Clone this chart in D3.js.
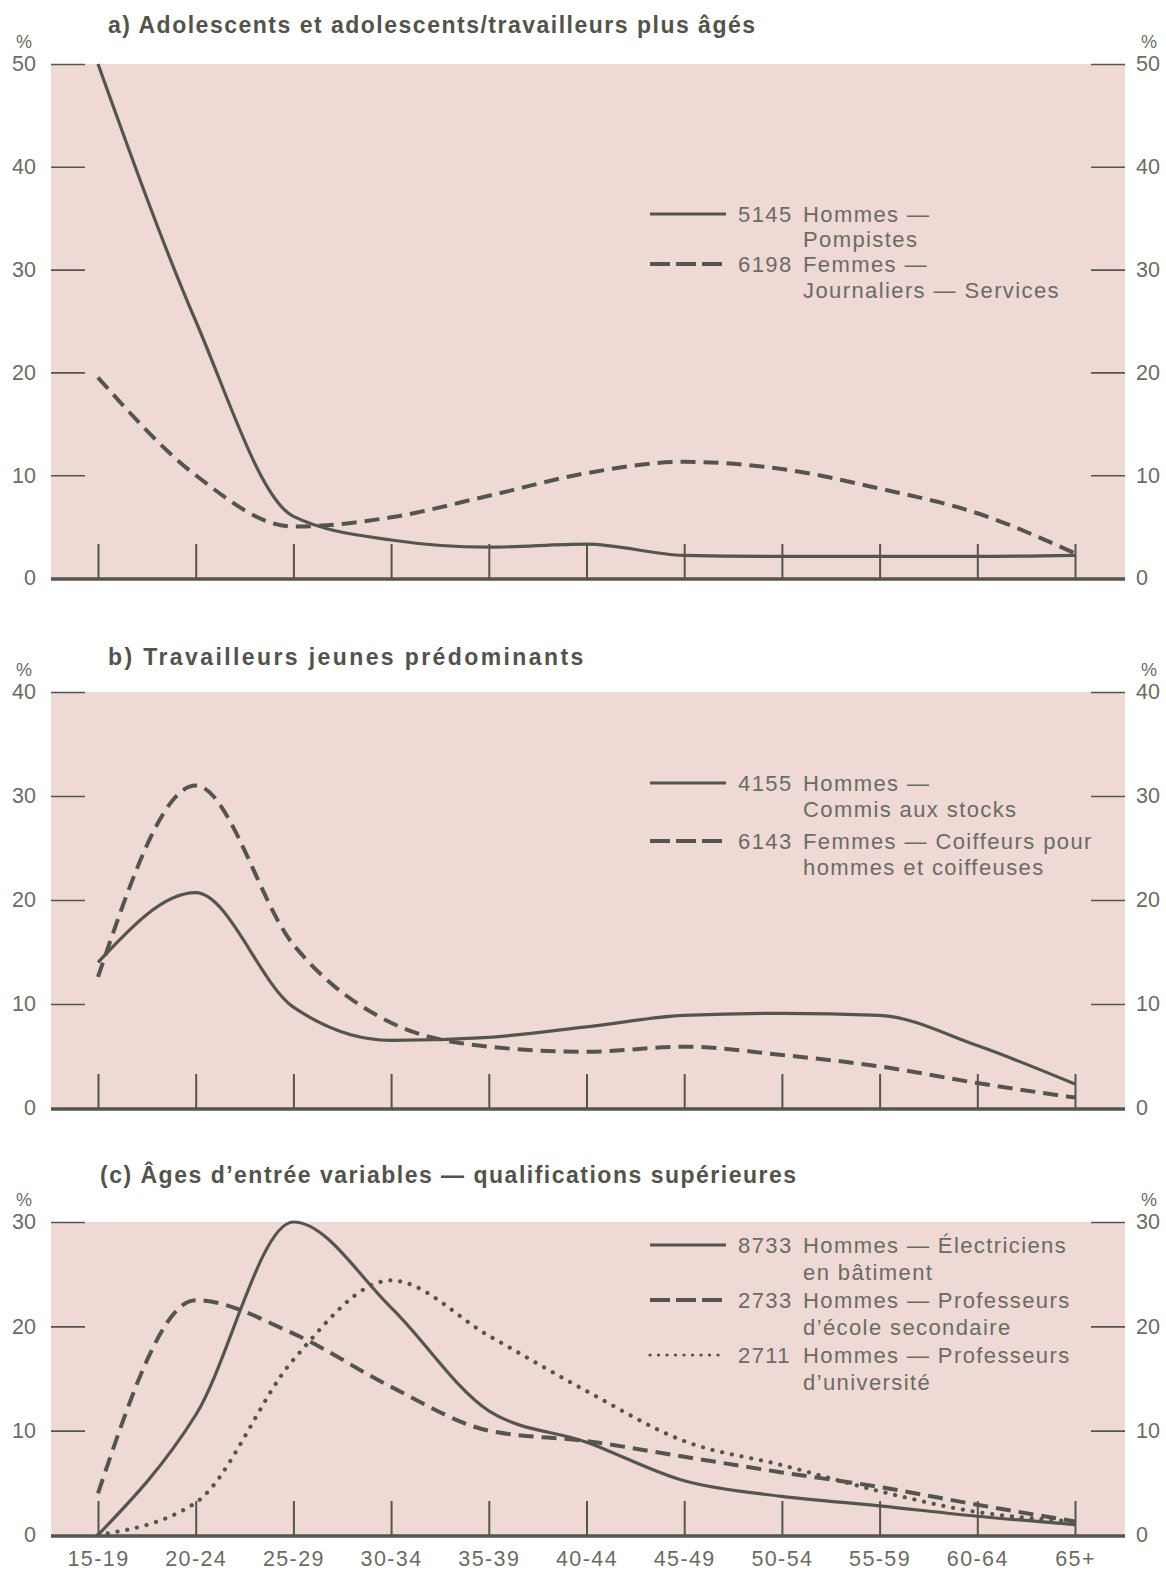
<!DOCTYPE html>
<html>
<head>
<meta charset="utf-8">
<script src="https://cdn.jsdelivr.net/npm/d3@7"></script>
<style>
  body { margin: 0; background: #ffffff; }
  svg { display: block; font-family: "Liberation Sans", Arial, Helvetica, sans-serif; }
</style>
</head>
<body>
<svg id="chart" width="1166" height="1573"></svg>
<script>
// Age groups shared by the three panels
const categories = ["15-19", "20-24", "25-29", "30-34", "35-39", "40-44", "45-49", "50-54", "55-59", "60-64", "65+"];

// Tick values for each panel's percentage scale
const ticksA = [0, 10, 20, 30, 40, 50];
const ticksB = [0, 10, 20, 30, 40];
const ticksC = [0, 10, 20, 30];

// a) Adolescents et adolescents/travailleurs plus âgés (%)
const pompistes   = [50, 25, 6.0, 3.7, 3.0, 3.3, 2.2, 2.1, 2.1, 2.1, 2.2];
const journaliers = [19.5, 10, 5.0, 5.9, 8.0, 10.2, 11.3, 10.6, 8.7, 6.3, 2.4];

// b) Travailleurs jeunes prédominants (%)
const commis     = [14, 20.7, 9.7, 6.5, 6.8, 7.8, 8.9, 9.1, 8.9, 6.0, 2.3];
const coiffeurs  = [12.6, 31, 15.7, 8.2, 5.9, 5.4, 5.9, 5.1, 4.0, 2.4, 1.0];

// c) Âges d'entrée variables — qualifications supérieures (%)
const electriciens = [0, 11.5, 30, 21.8, 11.9, 8.9, 5.2, 3.7, 2.8, 1.8, 1.0];
const secondaire   = [4, 22.5, 19.3, 14.2, 10.0, 9.0, 7.5, 6.0, 4.6, 2.9, 1.3];
const universite   = [0, 3.1, 16.8, 24.4, 19.1, 13.8, 9.0, 6.7, 4.2, 2.2, 1.3];

// Legend texts: [number, first line, second line]
const legendA = [["5145", "Hommes —", "Pompistes"], ["6198", "Femmes —", "Journaliers — Services"]];
const legendB = [["4155", "Hommes —", "Commis aux stocks"], ["6143", "Femmes — Coiffeurs pour", "hommes et coiffeuses"]];
const legendC = [["8733", "Hommes — Électriciens", "en bâtiment"], ["2733", "Hommes — Professeurs", "d’école secondaire"], ["2711", "Hommes — Professeurs", "d’université"]];

const titles = [
  "a) Adolescents et adolescents/travailleurs plus âgés",
  "b) Travailleurs jeunes prédominants",
  "(c) Âges d’entrée variables — qualifications supérieures"
];

// Colours and line styles
const PINK = "#eed9d5";
const INK = "#55554d";
const TEXT = "#6b6b64";
const TITLE = "#53534b";
const STYLES = {
  solid:  { width: 3.2, dash: null,       cap: "butt" },
  dashed: { width: 4,   dash: "15,8",     cap: "butt" },
  dotted: { width: 4.2, dash: "0.1,9.8",  cap: "round" }
};

const svg = d3.select("#chart");
const plotLeft = 51, plotRight = 1125;
const x = d3.scalePoint().domain(categories).range([98, 1075]);

function drawPanel(cfg) {
  const g = svg.append("g");
  const y = d3.scaleLinear().domain([0, cfg.max]).range([cfg.bottom, cfg.top]);

  // background band
  g.append("rect")
    .attr("x", plotLeft).attr("y", cfg.top)
    .attr("width", plotRight - plotLeft).attr("height", cfg.bottom - cfg.top)
    .attr("fill", PINK);

  // title
  g.append("text")
    .attr("x", cfg.titleX).attr("y", cfg.titleY)
    .attr("font-size", 23).attr("font-weight", "bold")
    .attr("letter-spacing", cfg.titleSpacing)
    .attr("fill", TITLE)
    .text(cfg.title);

  // percent markers
  g.append("text").attr("x", 24).attr("y", cfg.top - 22).attr("text-anchor", "middle")
    .attr("dy", "0.35em").attr("font-size", 18).attr("fill", TEXT).text("%");
  g.append("text").attr("x", 1149).attr("y", cfg.top - 22).attr("text-anchor", "middle")
    .attr("dy", "0.35em").attr("font-size", 18).attr("fill", TEXT).text("%");

  // left and right value axes
  const left = g.append("g").attr("transform", `translate(${plotLeft},0)`)
    .call(d3.axisLeft(y).tickValues(cfg.ticks).tickSize(-34).tickPadding(15).tickFormat(d3.format("d")));
  const right = g.append("g").attr("transform", `translate(${plotRight},0)`)
    .call(d3.axisRight(y).tickValues(cfg.ticks.filter(d => d > 0)).tickSize(-34).tickPadding(11).tickFormat(d3.format("d")));
  // right-hand zero label sits beside the baseline
  right.append("text").attr("x", 11).attr("y", y(0)).attr("dy", "0.32em")
    .attr("fill", TEXT).attr("text-anchor", "start").text("0");
  [left, right].forEach(ax => {
    ax.select(".domain").remove();
    ax.selectAll(".tick line").attr("stroke", INK).attr("stroke-width", 1.6);
    ax.selectAll(".tick").filter(d => d === 0).select("line").remove();
    ax.selectAll("text").attr("font-size", 21.5).attr("fill", TEXT)
      .attr("font-family", "'Liberation Sans', Arial, sans-serif");
  });

  // category axis: upward ticks on a heavy baseline
  const bottom = g.append("g").attr("transform", `translate(0,${cfg.bottom})`)
    .call(d3.axisBottom(x).tickSize(-34).tickPadding(16).tickFormat(cfg.labels ? (d => d) : () => ""));
  bottom.select(".domain").remove();
  bottom.selectAll(".tick line").attr("stroke", INK).attr("stroke-width", 2);
  bottom.selectAll("text").attr("font-size", 21.5).attr("fill", TEXT)
    .attr("letter-spacing", 1.4)
    .attr("font-family", "'Liberation Sans', Arial, sans-serif");
  g.append("line")
    .attr("x1", plotLeft).attr("x2", plotRight)
    .attr("y1", y(0) + 1).attr("y2", y(0) + 1)
    .attr("stroke", INK).attr("stroke-width", 3.5);

  // series curves
  const line = d3.line()
    .x((d, i) => x(categories[i]))
    .y(d => y(d))
    .curve(d3.curveMonotoneX);
  cfg.series.forEach(s => {
    const st = STYLES[s.style];
    g.append("path")
      .datum(s.values)
      .attr("d", line)
      .attr("fill", "none")
      .attr("stroke", INK)
      .attr("stroke-width", st.width)
      .attr("stroke-dasharray", st.dash)
      .attr("stroke-linecap", st.cap)
      .attr("stroke-linejoin", "round");
  });

  // legend
  cfg.series.forEach((s, i) => {
    const st = STYLES[s.style];
    const [y1, y2] = cfg.legendRows[i];
    g.append("line")
      .attr("x1", 650).attr("x2", 726).attr("y1", y1).attr("y2", y1)
      .attr("stroke", INK).attr("stroke-width", s.style === "dotted" ? 3.2 : st.width)
      .attr("stroke-dasharray", s.style === "dashed" ? "20,6" : (s.style === "dotted" ? "0.1,8.4" : st.dash))
      .attr("stroke-linecap", st.cap);
    const t = g.append("g").attr("font-size", 22).attr("fill", TEXT).attr("letter-spacing", 1.4);
    t.append("text").attr("x", 738).attr("y", y1).attr("dy", "0.35em").text(s.legend[0]);
    t.append("text").attr("x", 803).attr("y", y1).attr("dy", "0.35em").text(s.legend[1]);
    t.append("text").attr("x", 803).attr("y", y2).attr("dy", "0.35em").text(s.legend[2]);
  });
}

drawPanel({
  title: titles[0], titleX: 108, titleY: 33, titleSpacing: 1.5,
  top: 64, bottom: 578, max: 50, ticks: ticksA, labels: false,
  series: [
    { values: pompistes, style: "solid", legend: legendA[0] },
    { values: journaliers, style: "dashed", legend: legendA[1] }
  ],
  legendRows: [[214, 239], [264, 290]]
});

drawPanel({
  title: titles[1], titleX: 108, titleY: 665, titleSpacing: 2.4,
  top: 692, bottom: 1108, max: 40, ticks: ticksB, labels: false,
  series: [
    { values: commis, style: "solid", legend: legendB[0] },
    { values: coiffeurs, style: "dashed", legend: legendB[1] }
  ],
  legendRows: [[783, 809], [841, 867]]
});

drawPanel({
  title: titles[2], titleX: 100, titleY: 1183, titleSpacing: 1.5,
  top: 1222, bottom: 1535, max: 30, ticks: ticksC, labels: true,
  series: [
    { values: electriciens, style: "solid", legend: legendC[0] },
    { values: secondaire, style: "dashed", legend: legendC[1] },
    { values: universite, style: "dotted", legend: legendC[2] }
  ],
  legendRows: [[1245, 1272], [1300, 1327], [1355, 1382]]
});
</script>
</body>
</html>
